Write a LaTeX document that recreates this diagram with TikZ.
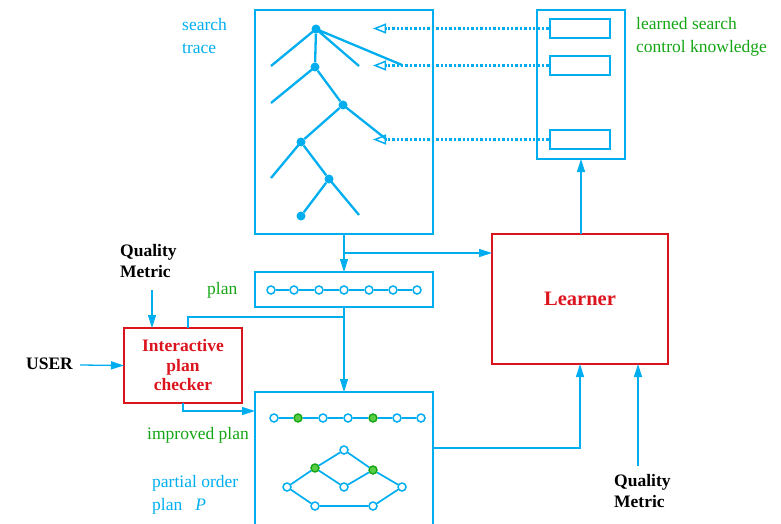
\documentclass[tikz,border=0pt]{standalone}
\usepackage{fontspec}
\setmainfont{Liberation Serif}
\usetikzlibrary{arrows.meta}
\definecolor{cy}{RGB}{0,174,239}
\definecolor{gr}{RGB}{20,165,20}
\definecolor{rd}{RGB}{220,20,30}
\definecolor{gfill}{RGB}{90,205,70}

\begin{document}
\begin{tikzpicture}[x=1pt,y=-1pt,
  box/.style={draw=cy,line width=1.4pt,inner sep=0pt,outer sep=0pt},
  kbox/.style={draw=cy,line width=1.8pt,inner sep=0pt,outer sep=0pt,minimum width=60pt,minimum height=19pt},
  redbox/.style={draw=rd,line width=1.8pt,inner sep=0pt,outer sep=0pt,text=rd,align=center},
  link/.style={draw=cy,line width=1.3pt},
  arr/.style={link,-{Triangle[length=13pt,width=8pt]}},
  dotarr/.style={draw=cy,line width=2.2pt,dash pattern=on 2.4pt off 2pt,-{Triangle[open,length=13pt,width=10pt,line width=1.5pt]}},
  branch/.style={draw=cy,line width=2.3pt},
  dot/.style={circle,fill=cy,inner sep=0pt,minimum size=9pt},
  odot/.style={circle,draw=cy,fill=white,line width=1.5pt,inner sep=0pt,minimum size=8pt},
  gdot/.style={circle,draw=gr,fill=gfill,line width=1.4pt,inner sep=0pt,minimum size=8pt},
  lbl/.style={font=\fontsize{17.5}{23}\selectfont,align=left,inner sep=0pt,anchor=west},
  blk/.style={font=\fontsize{17.5}{21}\selectfont\bfseries,align=left,inner sep=0pt,anchor=west}
]
\useasboundingbox (0,0) rectangle (781,524);

% ---------- search trace ----------
\node[box,minimum width=178pt,minimum height=224pt] (trace) at (344,122) {};
\node[lbl,text=cy] (tracelbl) at (182,36.5) {search\\trace};

\node[dot] (r) at (316,29) {};
\node[dot] (a) at (315,67) {};
\node[dot] (b) at (343,105) {};
\node[dot] (c) at (301,142) {};
\node[dot] (d) at (329,179) {};
\node[dot] (e) at (301,216) {};
\coordinate (l1) at (271,66);
\coordinate (l2) at (359,66);
\coordinate (l3) at (402,65);
\coordinate (l4) at (271,103);
\coordinate (l5) at (386,139);
\coordinate (l6) at (271,178);
\coordinate (l7) at (359,215);
\draw[branch] (r.center) -- (l1) (r.center) -- (l2) (r.center) -- (l3) (r) -- (a);
\draw[branch] (a.center) -- (l4) (a) -- (b);
\draw[branch] (b) -- (c) (b.center) -- (l5);
\draw[branch] (c.center) -- (l6) (c) -- (d);
\draw[branch] (d) -- (e) (d.center) -- (l7);

% ---------- learned search control knowledge ----------
\node[box,minimum width=88pt,minimum height=149pt] (know) at (581,84.5) {};
\node[kbox] (k1) at (580,28.5) {};
\node[kbox] (k2) at (580,65.5) {};
\node[kbox] (k3) at (580,139.5) {};
\node[lbl,text=gr] (knowlbl) at (636,36.5) {learned search\\control knowledge};
\coordinate (t1) at (373,28.5);
\coordinate (t2) at (373,65.5);
\coordinate (t3) at (373,139.5);
\draw[dotarr] ([xshift=-1.5pt]k1.west) -- (t1);
\draw[dotarr] ([xshift=-1.5pt]k2.west) -- (t2);
\draw[dotarr] ([xshift=-1.5pt]k3.west) -- (t3);
% left edges redrawn on top of the dotted lines
\draw[draw=cy,line width=1.8pt] (k1.north west) -- (k1.south west);
\draw[draw=cy,line width=1.8pt] (k2.north west) -- (k2.south west);
\draw[draw=cy,line width=1.8pt] (k3.north west) -- (k3.south west);

% ---------- plan ----------
\node[box,minimum width=178pt,minimum height=35pt] (plan) at (344,289.5) {};
\node[lbl,text=gr] (planlbl) at (207,290) {plan};
\foreach \i/\x in {1/271,2/294,3/319,4/344,5/369,6/393,7/417}
  \node[odot] (p\i) at (\x,290) {};
\draw[link,line width=1.5pt] (p1) -- (p2) -- (p3) -- (p4) -- (p5) -- (p6) -- (p7);

% ---------- learner ----------
\node[redbox,minimum width=176pt,minimum height=130pt,font=\fontsize{20.5}{22}\selectfont\bfseries] (learner) at (580,299) {Learner};

% ---------- plan checker ----------
\node[redbox,minimum width=118pt,minimum height=75pt,font=\fontsize{17.5}{19.5}\selectfont\bfseries] (checker) at (183,365.5) {Interactive\\plan\\checker};
\node[blk] (qm1) at (120,261) {Quality\\Metric};
\node[blk] (user) at (26,364) {USER};

% ---------- improved / partial order plan ----------
\node[box,minimum width=178pt,minimum height=134pt] (pop) at (344,459) {};
\node[lbl,text=gr] (implbl) at (147,435) {improved plan};
\node[lbl,text=cy] (poplbl) at (152,495) {partial order\\plan\hspace{13pt}\textit{P}};
\foreach \i/\x/\s in {1/274/odot,2/298/gdot,3/323/odot,4/348/odot,5/373/gdot,6/397/odot,7/421/odot}
  \node[\s] (q\i) at (\x,418) {};
\draw[link,line width=1.5pt] (q1) -- (q2) -- (q3) -- (q4) -- (q5) -- (q6) -- (q7);

\node[odot] (g1) at (344,450) {};
\node[gdot] (g2) at (315,468) {};
\node[gdot] (g3) at (373,470) {};
\node[odot] (g4) at (287,487) {};
\node[odot] (g5) at (344,487) {};
\node[odot] (g6) at (402,487) {};
\node[odot] (g7) at (315,506) {};
\node[odot] (g8) at (373,506) {};
\draw[link,line width=1.7pt] (g4) -- (g2) -- (g1) -- (g3) -- (g6);
\draw[link,line width=1.7pt] (g2) -- (g5) -- (g3);
\draw[link,line width=1.7pt] (g4) -- (g7) -- (g8) -- (g6);

\node[blk] (qm2) at (614,491) {Quality\\Metric};

% ---------- connectors ----------
\coordinate (j1) at (343,253);
\coordinate (j2) at (343,317);
\coordinate (j3) at (433,448);
\coordinate (j4) at (183,411);
\coordinate (ck) at (188,317);
\coordinate (qs1) at (152,290);
\coordinate (us) at (80,365);
\coordinate (qs2) at (638,466);
\draw[arr] (trace.south) -- (plan.north);
\draw[arr] (j1) -- (j1 -| learner.west);
\draw[arr] (know.south |- learner.north) -- (know.south);
\draw[arr] (plan.south) -- (pop.north);
\draw[link] (j2) -- (ck) -- (ck |- checker.north);
\draw[arr] (checker.south) -- (j4) -- (j4 -| pop.west);
\draw[arr] (j3) -| (learner.south);
\draw[arr] (qs1) -- (qs1 |- checker.north);
\draw[arr] (us) -- (checker.west);
\draw[arr] (qs2) -- (qs2 |- learner.south);
\end{tikzpicture}
\end{document}
